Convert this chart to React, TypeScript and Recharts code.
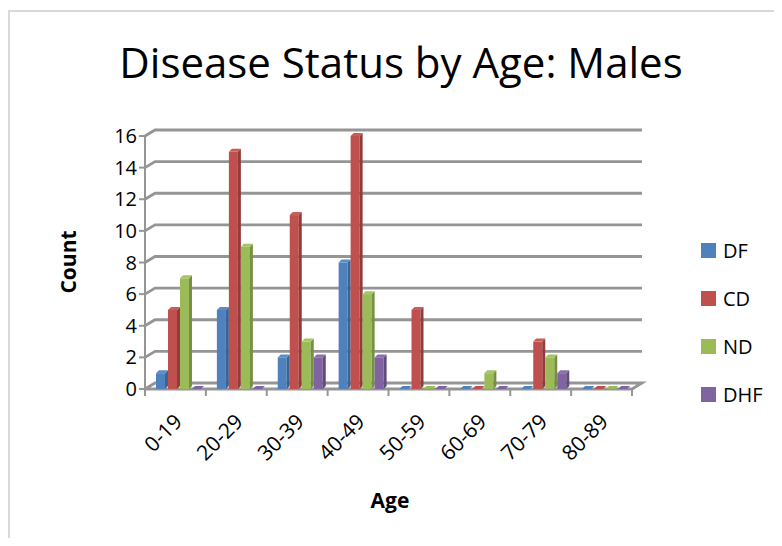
import React from "react";
import { BarChart, Bar, XAxis, YAxis, CartesianGrid } from "recharts";

const ageGroups = ["0-19", "20-29", "30-39", "40-49", "50-59", "60-69", "70-79", "80-89"];
const dfCounts = [1, 5, 2, 8, 0, 0, 0, 0];
const cdCounts = [5, 15, 11, 16, 5, 0, 3, 0];
const ndCounts = [7, 9, 3, 6, 0, 1, 2, 0];
const dhfCounts = [0, 0, 2, 2, 0, 0, 1, 0];
const countTicks = [0, 2, 4, 6, 8, 10, 12, 14, 16];

const series = [
  { key: "DF", color: "#4f81bd", side: "#3b6393", top: "#5a8bc6" },
  { key: "CD", color: "#c0504d", side: "#923c3a", top: "#c85c59" },
  { key: "ND", color: "#9bbb59", side: "#769043", top: "#a5c465" },
  { key: "DHF", color: "#8064a2", side: "#614b7c", top: "#8a6fab" },
];

const data = ageGroups.map((age, i) => ({
  age,
  DF: dfCounts[i],
  CD: cdCounts[i],
  ND: ndCounts[i],
  DHF: dhfCounts[i],
}));

const FONT = "'Open Sans', 'Noto Sans', sans-serif";
const GRID = "#959595";
// 3D depth of the back wall and of each column
const WALL_DX = 10;
const WALL_DY = -6;
const BAR_DX = 3;
const BAR_DY = -3;
const BAR_SHIFT = 5;
const PLOT_W = 487;
const HALF_BAND = PLOT_W / ageGroups.length / 2;

function Column3D(props: any) {
  const { x, y, width, height, side, top, fill } = props;
  if (x == null || y == null) return null;
  const h = Math.max(0, height || 0);
  const x0 = x + BAR_SHIFT;
  const w = width - BAR_DX;
  return (
    <g>
      {h > 0 && <rect x={x0} y={y} width={w} height={h} fill={fill} />}
      {h > 0 && (
        <polygon
          points={`${x0 + w},${y} ${x0 + w + BAR_DX},${y + BAR_DY} ${x0 + w + BAR_DX},${y + h + BAR_DY} ${x0 + w},${y + h}`}
          fill={side}
        />
      )}
      <polygon
        points={`${x0},${y} ${x0 + BAR_DX},${y + BAR_DY} ${x0 + w + BAR_DX},${y + BAR_DY} ${x0 + w},${y}`}
        fill={h > 0 ? top : fill}
      />
    </g>
  );
}

function GridLine(props: any) {
  const { x1, x2, y1 } = props;
  const bx1 = x1 + WALL_DX;
  const bx2 = x2 + WALL_DX;
  const by = y1 + WALL_DY;
  const isFloor = y1 > 380;
  return (
    <g key={props.key}>
      <polyline
        points={
          isFloor
            ? `${x1},${y1} ${bx1},${by} ${bx2},${by} ${x2},${y1} ${x1},${y1}`
            : `${x1},${y1} ${bx1},${by} ${bx2},${by}`
        }
        fill={isFloor ? "#fff" : "none"}
        stroke={GRID}
        strokeWidth={2.8}
      />
    </g>
  );
}

function AgeTick(props: any) {
  const { x, y, payload, index } = props;
  const ax = x + 8;
  const ay = y + 26;
  return (
    <g>
      <line x1={x - HALF_BAND} y1={y - 8} x2={x - HALF_BAND} y2={y - 1} stroke={GRID} strokeWidth={2} />
      {index === ageGroups.length - 1 && (
        <line x1={x + HALF_BAND} y1={y - 8} x2={x + HALF_BAND} y2={y - 1} stroke={GRID} strokeWidth={2} />
      )}
      <text
        x={ax}
        y={ay}
        textAnchor="end"
        fontSize={21}
        fontFamily={FONT}
        fill="#000"
        transform={`rotate(-45, ${ax}, ${ay})`}
      >
        {payload.value}
      </text>
    </g>
  );
}

export default function App() {
  return (
    <div
      style={{
        position: "relative",
        width: 782,
        height: 546,
        margin: -8,
        overflow: "hidden",
        background: "#fff",
        fontFamily: FONT,
      }}
    >
      <div
        style={{
          position: "absolute",
          left: 8,
          top: 10,
          width: 900,
          height: 700,
          borderLeft: "2px solid #d9d9d9",
          borderTop: "2px solid #d9d9d9",
        }}
      />
      <div
        style={{
          position: "absolute",
          left: 0,
          width: 802,
          top: 35,
          textAlign: "center",
          fontSize: 42,
          lineHeight: "54px",
          color: "#000",
        }}
      >
        Disease Status by Age: Males
      </div>
      <div style={{ position: "absolute", left: 0, top: 0 }}>
        <BarChart
          width={782}
          height={546}
          data={data}
          margin={{ top: 136, right: 150, left: 105, bottom: 97 }}
          barSize={12}
          barGap={0}
        >
          <CartesianGrid vertical={false} horizontal={(p: any) => <GridLine {...p} />} />
          <XAxis
            dataKey="age"
            height={60}
            axisLine={false}
            tickLine={false}
            interval={0}
            tick={<AgeTick />}
          />
          <YAxis
            width={40}
            domain={[0, 16]}
            ticks={countTicks}
            interval={0}
            axisLine={{ stroke: GRID, strokeWidth: 2 }}
            tickLine={{ stroke: GRID, strokeWidth: 2 }}
            tickSize={6}
            tick={{ fill: "#000", fontSize: 20, fontFamily: FONT }}
          />
          {series.map((s) => (
            <Bar
              key={s.key}
              dataKey={s.key}
              fill={s.color}
              isAnimationActive={false}
              shape={(p: any) => <Column3D {...p} side={s.side} top={s.top} fill={s.color} />}
            />
          ))}
        </BarChart>
      </div>
      <div
        style={{
          position: "absolute",
          left: 68,
          top: 262,
          transform: "translate(-50%, -50%) rotate(-90deg)",
          fontSize: 21,
          fontWeight: 700,
          whiteSpace: "nowrap",
        }}
      >
        Count
      </div>
      <div
        style={{
          position: "absolute",
          left: 390,
          top: 500,
          transform: "translate(-50%, -50%)",
          fontSize: 21,
          fontWeight: 700,
        }}
      >
        Age
      </div>
      {series.map((s, i) => (
        <div
          key={s.key}
          style={{
            position: "absolute",
            left: 701,
            top: 236 + i * 48,
            display: "flex",
            alignItems: "center",
            height: 29,
            fontSize: 20,
          }}
        >
          <span style={{ width: 15, height: 15, background: s.color, marginRight: 7 }} />
          {s.key}
        </div>
      ))}
    </div>
  );
}
